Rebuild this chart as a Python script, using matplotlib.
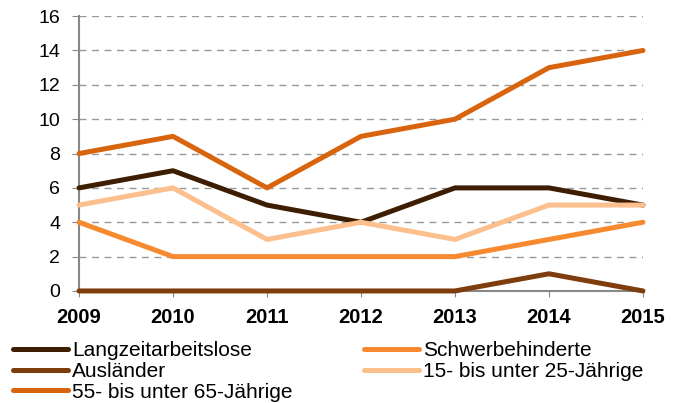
import matplotlib.pyplot as plt

years = [2009, 2010, 2011, 2012, 2013, 2014, 2015]
langzeit = [6, 7, 5, 4, 6, 6, 5]
schwerbeh = [4, 2, 2, 2, 2, 3, 4]
auslaender = [0, 0, 0, 0, 0, 1, 0]
jung = [5, 6, 3, 4, 3, 5, 5]
alt = [8, 9, 6, 9, 10, 13, 14]

labels = ["Langzeitarbeitslose", "Schwerbehinderte", "Ausländer",
          "15- bis unter 25-Jährige", "55- bis unter 65-Jährige"]
colors = ["#3D1E02", "#F7892F", "#7E3D0C", "#FCBF8E", "#D8640E"]

plt.rcParams['font.family'] = ['Liberation Sans', 'DejaVu Sans']

fig = plt.figure(figsize=(6.84, 4.03), dpi=100)
ax = fig.add_axes([0.1155, 0.278, 0.8245, 0.682])

handles = {}
for vals, lab, col in zip([langzeit, schwerbeh, auslaender, jung, alt], labels, colors):
    h, = ax.plot(years, vals, color=col, linewidth=3.6, label=lab,
                 solid_capstyle='round', clip_on=False, zorder=3)
    handles[lab] = h

ax.set_xlim(2009, 2015)
ax.set_ylim(0, 16)
ax.set_yticks(range(0, 17, 2))
ax.set_xticks(years)
ax.tick_params(axis='y', labelsize=14, length=5, color='#888888', pad=8.5)
ax.tick_params(axis='x', labelsize=14.5, length=4, color='#888888', pad=8)
for t in ax.get_xticklabels():
    t.set_fontweight('bold')

ax.grid(axis='y', color='#999999', linestyle=(0, (5, 4)), linewidth=1)
ax.set_axisbelow(True)
for s in ['top', 'right']:
    ax.spines[s].set_visible(False)
for s in ['left', 'bottom']:
    ax.spines[s].set_color('#888888')
    ax.spines[s].set_linewidth(1.5)

order = ["Langzeitarbeitslose", "Ausländer", "55- bis unter 65-Jährige",
         "Schwerbehinderte", "15- bis unter 25-Jährige"]
leg = fig.legend([handles[k] for k in order], order, ncol=2,
                 loc='upper left', bbox_to_anchor=(0.019, 0.153),
                 frameon=False, fontsize=15, handlelength=2.65,
                 handletextpad=0.2, labelspacing=0.08, columnspacing=3.4,
                 borderaxespad=0, borderpad=0)

fig.savefig("out.png", dpi=100)
